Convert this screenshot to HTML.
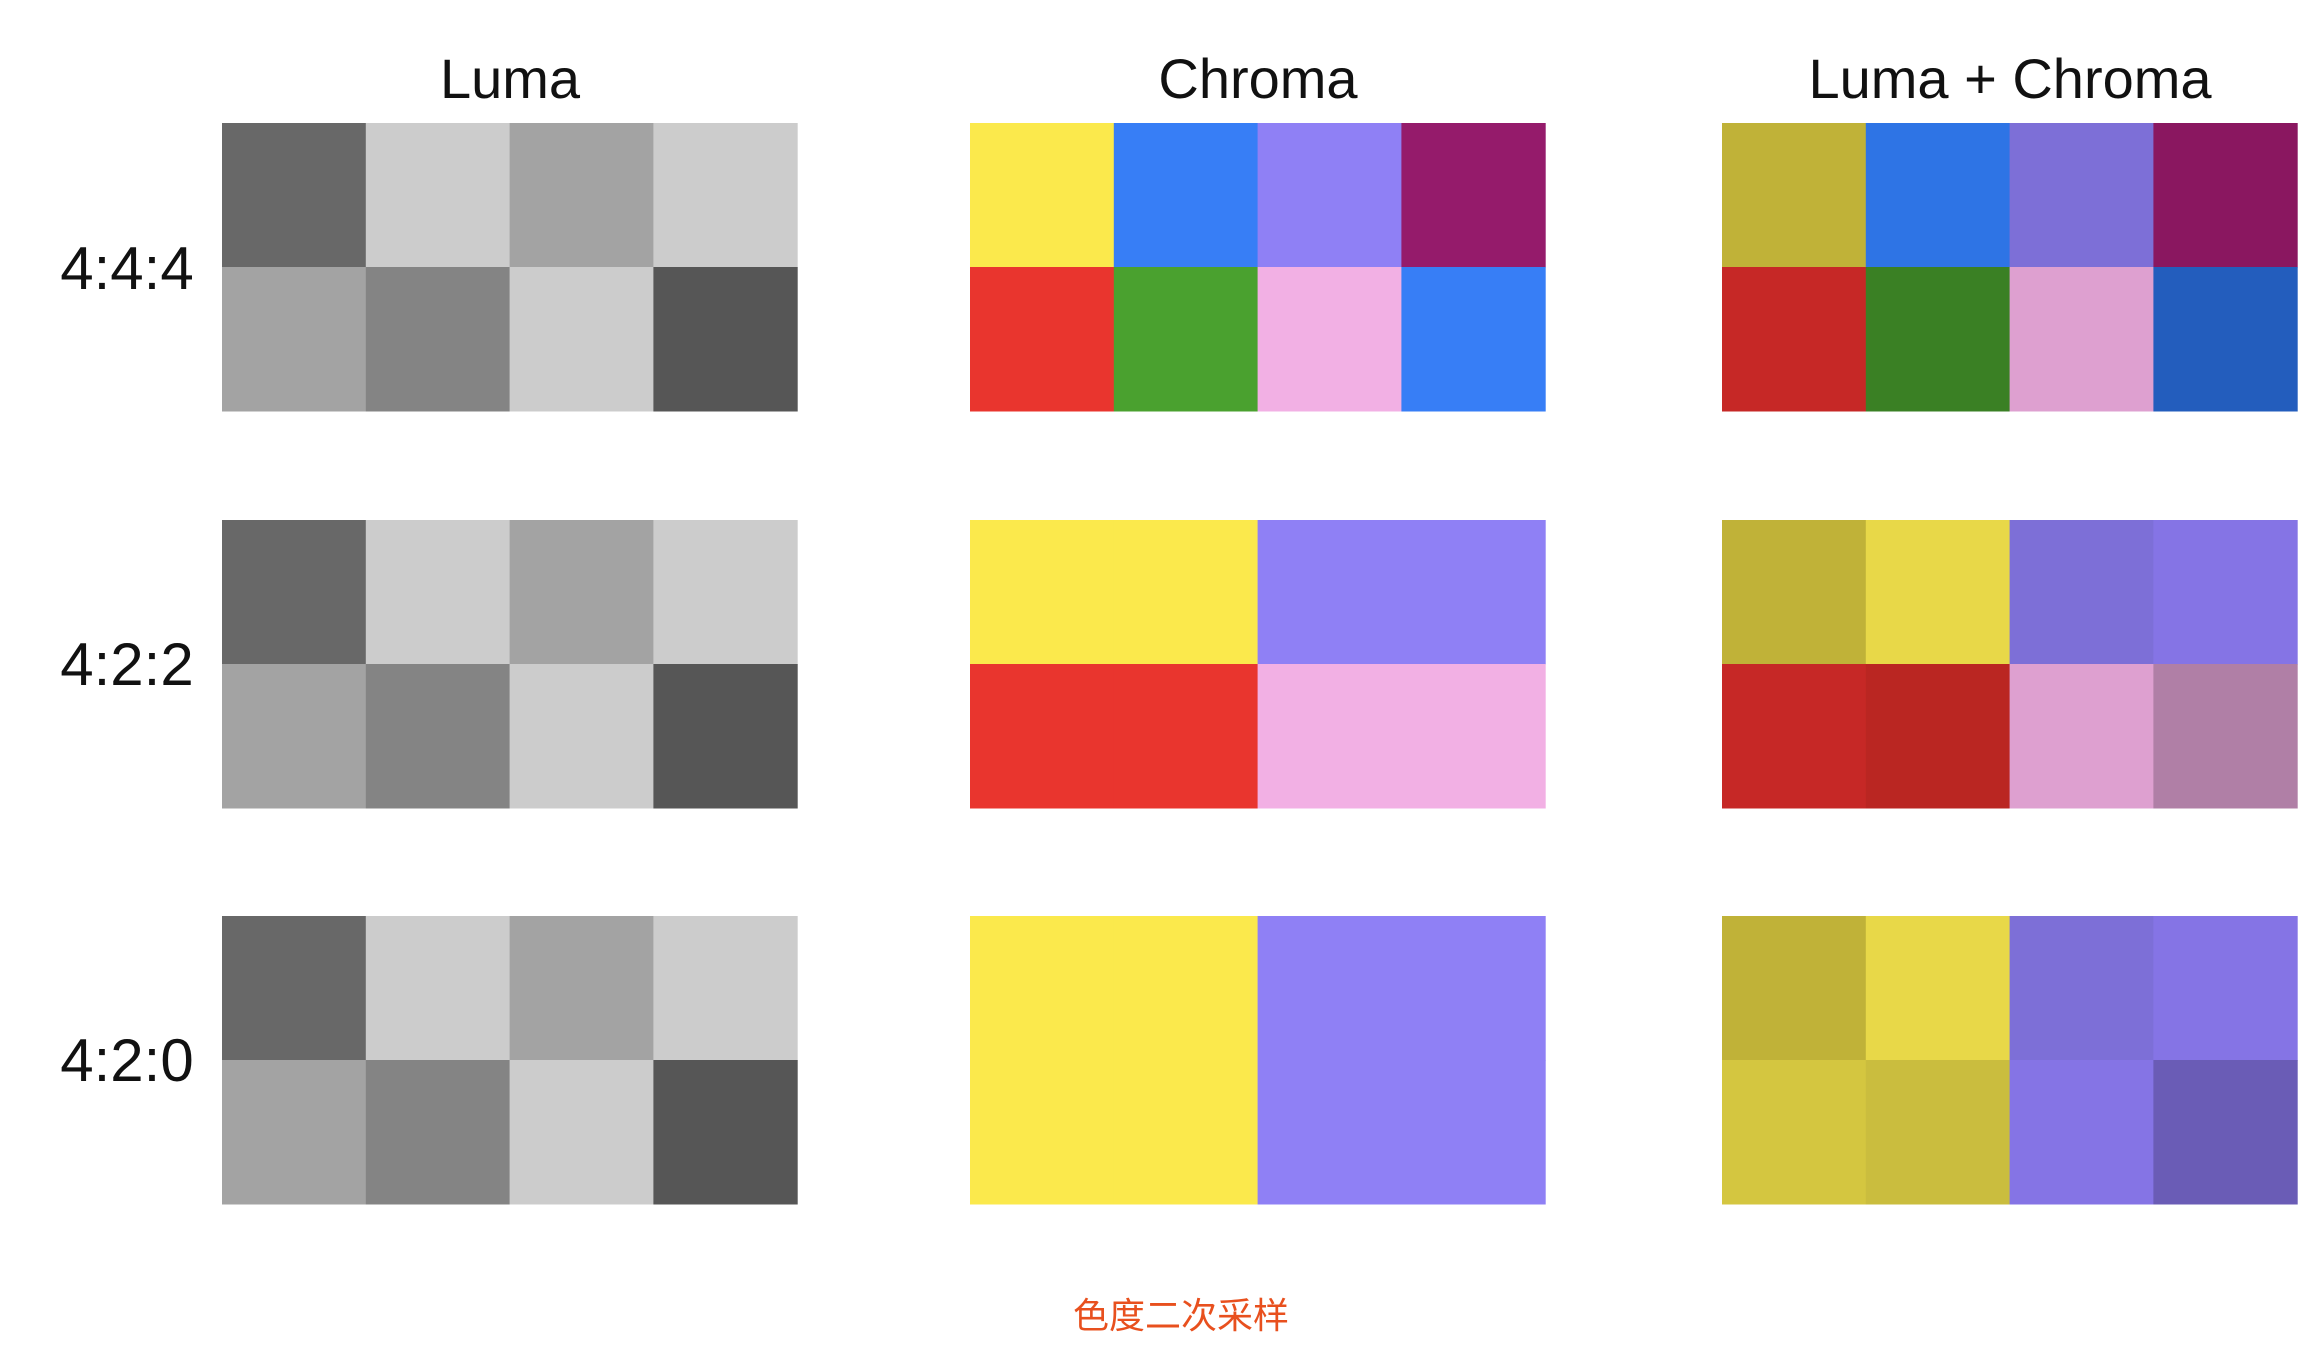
<!DOCTYPE html>
<html><head><meta charset="utf-8"><style>
html,body{margin:0;padding:0;background:#fff;}
svg{display:block;}
</style></head><body>
<svg id="chart" width="2316" height="1356" viewBox="0 0 2316 1356" xmlns="http://www.w3.org/2000/svg">
<rect width="2316" height="1356" fill="#fff"/>
<g id="titles" font-family="Liberation Sans, sans-serif" font-size="56" fill="#111" text-anchor="middle">
<text x="510" y="98">Luma</text>
<text x="1258" y="98">Chroma</text>
<text x="2010" y="98">Luma + Chroma</text>
</g>
<g id="rows" font-family="Liberation Sans, sans-serif" font-size="60" fill="#111" text-anchor="middle">
<text x="127" y="289">4:4:4</text>
<text x="127" y="685">4:2:2</text>
<text x="127" y="1081">4:2:0</text>
</g>
<text x="1181" y="1328" font-family="Liberation Sans, 'Noto Sans CJK SC', sans-serif" font-size="36" fill="#e8501e" text-anchor="middle">色度二次采样</text>
<g id="cells"></g>
</svg>
<script>
// Each grid: 2 rows x 4 columns of colours, one per (row label, panel)
const rowLabels = ["444", "422", "420"];
const panels = ["luma", "chroma", "luma-chroma"];
const lumaGrid = ["#686868","#cccccc","#a3a3a3","#cccccc","#a3a3a3","#848484","#cccccc","#565656"];
const chroma444 = ["#fbe94c","#377ef6","#8f80f5","#951b6b","#e9352e","#4aa12f","#f2b0e4","#377ef6"];
const chroma422 = ["#fbe94c","#fbe94c","#8f80f5","#8f80f5","#e9352e","#e9352e","#f2b0e4","#f2b0e4"];
const chroma420 = ["#fbe94c","#fbe94c","#8f80f5","#8f80f5","#fbe94c","#fbe94c","#8f80f5","#8f80f5"];
const mixed444 = ["#c0b238","#2e74e5","#7d6fd7","#8a1760","#c62826","#3a8024","#dea0d0","#235dbd"];
const mixed422 = ["#c0b238","#e8d848","#7d6fd7","#8574e5","#c62826","#ba2622","#dea0d0","#b07fa6"];
const mixed420 = ["#c0b238","#e8d848","#7d6fd7","#8574e5","#d4c640","#cabd3e","#8574e5","#6a5cb6"];
const grids = [
  [lumaGrid, chroma444, mixed444],
  [lumaGrid, chroma422, mixed422],
  [lumaGrid, chroma420, mixed420]
];
const panelX = [222, 970, 1722];
const rowY = [123, 520, 916];
const cellW = 143.8, cellH = 144;
const g = document.getElementById('cells');
const NS = "http://www.w3.org/2000/svg";
grids.forEach((row, r) => {
  row.forEach((grid, p) => {
    grid.forEach((color, i) => {
      const c = i % 4, rr = Math.floor(i / 4);
      const rect = document.createElementNS(NS, 'rect');
      rect.setAttribute('x', panelX[p] + c * cellW);
      rect.setAttribute('y', rowY[r] + rr * cellH);
      rect.setAttribute('width', cellW + 0.5);
      rect.setAttribute('height', cellH + 0.5);
      rect.setAttribute('fill', color);
      
      
      g.appendChild(rect);
    });
  });
});
</script>
</body></html>
